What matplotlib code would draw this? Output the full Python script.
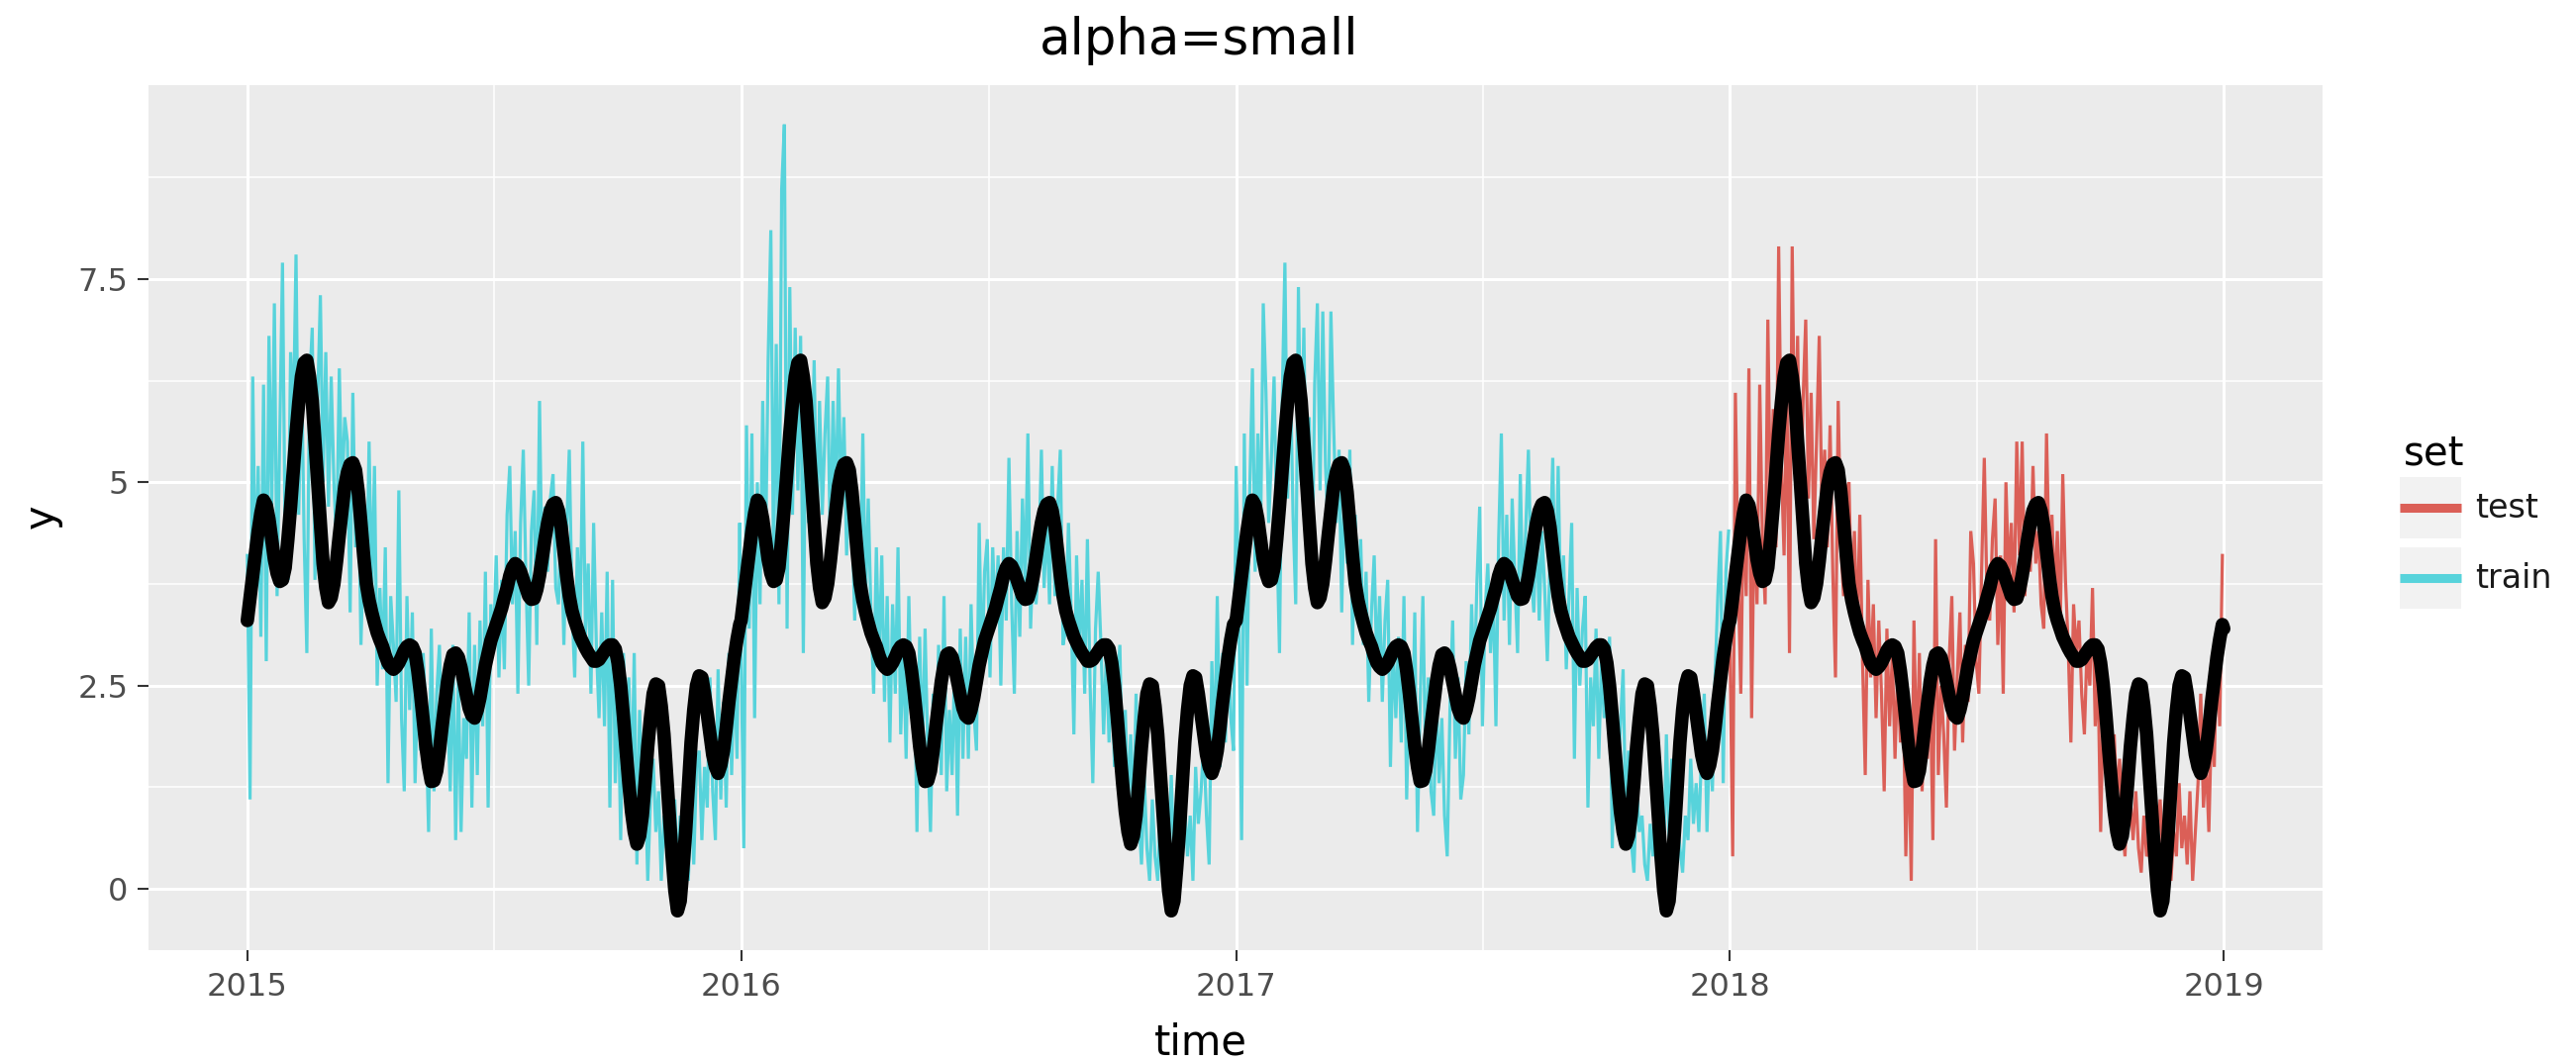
import numpy as np
import pandas as pd
import matplotlib
matplotlib.use('Agg')
import matplotlib.pyplot as plt
import matplotlib.dates as mdates
from matplotlib.patches import Rectangle
from matplotlib.lines import Line2D


# observed y, one value every second day starting 1 January of each year
y_2015 = [4.1, 1.1, 6.3, 3.7, 5.2, 3.1, 6.2, 2.8, 6.8, 4.6,
          7.2, 3.6, 5.6, 7.7, 4.2, 3.8, 6.6, 5.7, 7.8, 4.6,
          6.5, 4.3, 2.9, 6.2, 6.9, 3.8, 6.0, 7.3, 5.0, 6.6,
          4.7, 6.3, 5.0, 4.2, 6.4, 4.8, 5.8, 5.5, 3.4, 6.1,
          4.2, 5.2, 3.0, 4.3, 3.4, 5.5, 3.6, 5.2, 2.5, 3.7,
          2.7, 4.2, 1.3, 3.6, 3.0, 2.3, 4.9, 2.1, 1.2, 3.6,
          2.2, 3.4, 1.3, 2.6, 1.7, 2.9, 2.1, 0.7, 3.2, 1.2,
          2.4, 3.0, 1.7, 2.5, 2.3, 1.2, 3.0, 0.6, 2.6, 0.7,
          2.1, 1.6, 3.4, 1.0, 3.0, 1.4, 3.3, 2.0, 3.9, 1.0,
          3.5, 3.0, 4.1, 2.6, 3.8, 2.7, 4.6, 5.2, 3.5, 4.4,
          2.4, 4.5, 5.4, 3.8, 2.5, 4.4, 4.9, 3.0, 6.0, 3.7,
          4.7, 3.9, 4.8, 5.1, 3.7, 3.5, 4.5, 3.0, 4.4, 5.4,
          3.5, 2.6, 4.2, 3.2, 5.5, 3.1, 4.0, 2.4, 4.5, 3.0,
          2.1, 3.4, 2.0, 3.9, 1.0, 3.8, 1.3, 2.5, 0.6, 2.9,
          1.9, 2.6, 1.1, 2.9, 0.3, 2.2, 1.0, 1.5, 0.1, 1.1,
          1.6, 0.7, 1.2, 0.1, 0.9, 0.5, 1.2, 0.6, 1.1, 0.2,
          0.9, 0.4, 1.2, 0.1, 1.1, 0.3, 1.5, 1.7, 0.6, 1.5,
          1.0, 2.6, 1.2, 0.6, 2.7, 1.1, 2.3, 1.0, 2.9, 1.4,
          2.8, 1.6, 4.5]
y_2016 = [3.0, 0.5, 5.7, 3.2, 5.6, 2.1, 5.0, 3.5, 6.0, 4.0,
          6.5, 8.1, 3.9, 6.7, 3.5, 8.6, 9.4, 3.2, 7.4, 4.6,
          6.9, 4.9, 6.8, 2.9, 6.3, 4.5, 4.8, 6.5, 4.4, 6.0,
          4.6, 5.6, 6.3, 4.1, 6.0, 4.6, 6.4, 4.7, 5.8, 4.1,
          5.2, 4.6, 3.3, 4.8, 3.6, 5.6, 3.5, 4.8, 3.4, 2.4,
          4.2, 2.8, 4.1, 2.3, 3.6, 1.8, 3.5, 2.4, 4.2, 1.9,
          3.0, 1.6, 3.6, 2.1, 2.9, 0.7, 3.1, 1.6, 3.2, 1.7,
          0.7, 2.4, 1.5, 3.0, 1.4, 3.6, 1.2, 2.2, 1.4, 2.9,
          0.9, 3.2, 1.6, 3.1, 1.6, 3.5, 2.2, 1.7, 4.5, 2.6,
          3.9, 4.3, 2.6, 4.2, 3.3, 4.1, 2.5, 4.2, 3.3, 5.3,
          3.5, 2.4, 4.4, 3.1, 4.8, 3.7, 5.6, 3.2, 4.2, 3.5,
          4.0, 5.4, 3.7, 4.6, 3.5, 5.2, 3.6, 4.7, 5.4, 3.0,
          3.2, 4.5, 3.4, 1.9, 4.1, 3.0, 3.8, 2.4, 4.3, 2.5,
          1.3, 3.2, 3.9, 3.0, 1.9, 2.9, 1.8, 2.7, 1.5, 2.5,
          3.0, 1.2, 2.2, 1.0, 1.9, 0.8, 2.4, 0.9, 0.3, 1.4,
          0.5, 0.1, 1.1, 0.4, 0.1, 1.0, 0.5, 1.2, 0.4, 1.4,
          0.3, 0.5, 1.1, 0.5, 1.0, 0.4, 0.9, 0.1, 1.5, 0.8,
          1.2, 1.8, 0.9, 0.3, 2.8, 1.6, 3.6, 1.5, 2.9, 1.8,
          3.1, 2.1, 1.7]
y_2017 = [5.2, 3.4, 0.6, 5.6, 2.5, 4.9, 6.4, 3.9, 5.6, 4.3,
          7.2, 6.1, 4.5, 5.3, 6.3, 4.4, 2.9, 6.0, 7.7, 4.8,
          6.4, 4.6, 3.5, 7.4, 5.0, 6.9, 4.5, 5.8, 3.6, 6.2,
          7.2, 4.9, 7.1, 5.2, 4.4, 7.1, 5.7, 4.5, 5.4, 3.4,
          5.0, 4.0, 5.4, 3.0, 4.6, 3.3, 4.3, 3.0, 3.9, 2.3,
          3.4, 4.1, 2.7, 3.6, 2.3, 3.3, 3.8, 1.5, 3.0, 2.1,
          3.1, 1.8, 3.6, 1.1, 2.6, 1.6, 3.4, 0.7, 2.3, 3.6,
          1.5, 2.6, 1.2, 0.9, 2.4, 1.3, 2.1, 0.9, 0.4, 2.2,
          3.3, 1.6, 2.6, 1.1, 1.4, 2.8, 1.9, 3.5, 2.5, 3.8,
          4.7, 2.0, 3.4, 4.0, 2.9, 3.7, 2.0, 4.3, 5.6, 3.3,
          4.6, 3.0, 4.8, 3.8, 2.9, 5.1, 3.5, 4.4, 5.4, 3.9,
          3.4, 4.6, 3.3, 4.4, 3.7, 2.8, 4.1, 5.3, 3.4, 5.2,
          3.3, 4.1, 2.7, 3.6, 4.5, 1.6, 3.7, 2.5, 3.2, 3.6,
          1.0, 2.6, 2.0, 3.2, 1.6, 2.8, 2.1, 2.5, 3.1, 0.5,
          2.2, 1.3, 2.0, 2.7, 0.8, 1.7, 0.6, 0.2, 1.3, 0.7,
          0.9, 0.3, 0.1, 0.8, 0.4, 1.1, 0.5, 0.9, 0.3, 1.9,
          0.6, 1.6, 0.4, 0.9, 0.5, 0.2, 0.9, 0.6, 1.6, 0.8,
          1.3, 0.7, 1.7, 2.4, 0.7, 1.9, 1.2, 2.6, 3.6, 4.4,
          1.3, 3.9, 4.4]
y_2018 = [3.0, 0.4, 6.1, 3.9, 2.4, 4.8, 3.6, 6.4, 2.1, 4.7,
          3.5, 6.2, 4.3, 3.5, 7.0, 4.6, 5.9, 4.2, 7.9, 5.2,
          4.1, 6.3, 2.9, 7.9, 5.1, 6.8, 4.4, 6.0, 7.0, 4.8,
          6.1, 4.3, 5.5, 6.8, 4.6, 5.4, 4.2, 5.7, 3.9, 2.6,
          6.0, 4.2, 3.6, 4.9, 5.0, 3.4, 4.4, 3.1, 4.6, 2.8,
          1.4, 3.8, 2.6, 3.5, 2.1, 3.3, 2.4, 1.2, 3.2, 2.0,
          2.9, 1.6, 2.7, 1.8, 2.5, 0.4, 1.9, 0.1, 3.3, 1.5,
          2.9, 1.2, 2.2, 1.6, 2.6, 0.6, 4.3, 1.4, 2.5, 1.9,
          1.0, 2.8, 3.6, 1.7, 2.6, 3.4, 1.8, 3.0, 2.3, 4.4,
          4.0, 2.8, 2.4, 3.9, 5.3, 3.6, 3.3, 4.3, 4.8, 3.0,
          4.1, 2.4, 5.0, 3.8, 4.5, 3.4, 5.5, 4.1, 5.5, 3.6,
          4.6, 3.9, 5.2, 4.0, 4.4, 3.5, 3.2, 5.6, 4.0, 4.6,
          3.6, 4.4, 3.1, 5.1, 3.8, 3.0, 1.8, 3.5, 2.9, 3.3,
          2.4, 1.9, 3.0, 2.5, 3.7, 2.0, 2.7, 0.7, 2.3, 1.5,
          2.2, 1.3, 1.9, 1.1, 1.6, 0.8, 0.4, 1.3, 1.1, 0.6,
          1.2, 0.5, 0.2, 0.9, 0.4, 0.5, 1.0, 0.3, 0.6, 1.1,
          0.4, 0.8, 0.3, 0.1, 0.7, 0.4, 1.3, 0.5, 0.9, 0.3,
          1.2, 0.1, 0.7, 1.3, 2.4, 1.0, 1.6, 0.7, 2.1, 1.5,
          3.2, 2.0, 4.1]

# smooth seasonal fit, same two-day steps, identical every year
fit_year = [3.3, 3.58, 3.85, 4.13, 4.4, 4.62, 4.78, 4.72, 4.55, 4.3,
            4.05, 3.88, 3.78, 3.8, 3.95, 4.3, 4.7, 5.15, 5.6, 5.98,
            6.3, 6.47, 6.5, 6.3, 6.0, 5.5, 5.0, 4.5, 4.0, 3.7,
            3.52, 3.58, 3.75, 4.03, 4.35, 4.65, 4.95, 5.12, 5.22, 5.24,
            5.15, 4.88, 4.5, 4.1, 3.75, 3.55, 3.4, 3.27, 3.15, 3.06,
            2.98, 2.87, 2.78, 2.73, 2.7, 2.73, 2.78, 2.85, 2.93, 2.98,
            3.0, 2.98, 2.9, 2.68, 2.4, 2.08, 1.75, 1.5, 1.32, 1.33,
            1.45, 1.7, 2.0, 2.28, 2.55, 2.75, 2.88, 2.9, 2.85, 2.72,
            2.55, 2.38, 2.22, 2.13, 2.1, 2.2, 2.35, 2.55, 2.75, 2.9,
            3.05, 3.15, 3.25, 3.35, 3.45, 3.58, 3.7, 3.85, 3.95, 4.0,
            3.97, 3.9, 3.8, 3.7, 3.6, 3.56, 3.57, 3.68, 3.85, 4.07,
            4.3, 4.5, 4.65, 4.73, 4.75, 4.65, 4.45, 4.15, 3.85, 3.6,
            3.42, 3.3, 3.2, 3.1, 3.03, 2.96, 2.9, 2.85, 2.8, 2.8,
            2.82, 2.87, 2.92, 2.97, 3.0, 3.0, 2.95, 2.78, 2.5, 2.12,
            1.7, 1.3, 0.95, 0.7, 0.55, 0.65, 0.9, 1.3, 1.75, 2.1,
            2.4, 2.52, 2.5, 2.25, 1.9, 1.4, 0.9, 0.4, -0.02, -0.27,
            -0.15, 0.25, 0.7, 1.25, 1.8, 2.2, 2.5, 2.62, 2.6, 2.4,
            2.15, 1.9, 1.65, 1.5, 1.42, 1.52, 1.7, 1.98, 2.3, 2.58,
            2.85, 3.07, 3.25]
fit_end = 3.2  # fit at 2019-01-01

train_years = [2015, 2016, 2017]
test_years = [2018]
year_values = {2015: y_2015, 2016: y_2016, 2017: y_2017, 2018: y_2018}
set_labels = ['test', 'train']
set_colors = {'test': '#db5f57', 'train': '#57d3db'}
x_ticks = [2015, 2016, 2017, 2018, 2019]
y_ticks = [0, 2.5, 5, 7.5]
y_tick_labels = ['0', '2.5', '5', '7.5']


def year_dates(year):
    start = pd.Timestamp(f'{year}-01-01')
    return mdates.date2num((start + pd.to_timedelta(np.arange(0, 365, 2), unit='D')).to_pydatetime())


def jan1(year):
    return mdates.date2num(pd.Timestamp(f'{year}-01-01').to_pydatetime())


W, H = 2602, 1073
fig = plt.figure(figsize=(W / 100, H / 100), dpi=100)
fig.patch.set_facecolor('white')
px_l, px_r, px_t, px_b = 150, 2346, 86, 960
ax = fig.add_axes([px_l / W, 1 - px_b / H, (px_r - px_l) / W, (px_b - px_t) / H])
ax.set_facecolor('#ebebeb')

# noisy series, one line per set
for name, years in (('train', train_years), ('test', test_years)):
    xs = np.concatenate([year_dates(yr) for yr in years])
    ys = np.concatenate([year_values[yr] for yr in years])
    ax.plot(xs, ys, color=set_colors[name], lw=2.3, solid_joinstyle='miter', zorder=2)

# seasonal fit on top
fit_x = np.concatenate([year_dates(yr) for yr in train_years + test_years] + [[jan1(2019)]])
fit_y = np.concatenate([fit_year] * 4 + [[fit_end]])
ax.plot(fit_x, fit_y, color='black', lw=9.8, solid_capstyle='round', solid_joinstyle='round', zorder=3)

# limits with 5% expansion as in ggplot
x0, x1 = jan1(2015), jan1(2019)
all_y = np.concatenate([y_2015, y_2016, y_2017, y_2018, fit_year])
y0, y1 = all_y.min(), all_y.max()
ax.set_xlim(x0 - 0.05 * (x1 - x0), x1 + 0.05 * (x1 - x0))
ax.set_ylim(y0 - 0.05 * (y1 - y0), y1 + 0.05 * (y1 - y0))

major_x = [jan1(y) for y in x_ticks]
ax.set_xticks(major_x)
ax.set_xticklabels([str(y) for y in x_ticks])
ax.set_xticks([(a + b) / 2 for a, b in zip(major_x[:-1], major_x[1:])], minor=True)
ax.set_yticks(y_ticks)
ax.set_yticklabels(y_tick_labels)
ax.set_yticks([1.25, 3.75, 6.25, 8.75], minor=True)

ax.grid(which='major', color='white', lw=2.2, zorder=0)
ax.grid(which='minor', color='white', lw=1.1, zorder=0)
ax.set_axisbelow(True)
for sp in ax.spines.values():
    sp.set_visible(False)
ax.tick_params(which='major', length=7.7, width=1.5, color='#333333',
               labelsize=23, labelcolor='#4d4d4d')
ax.tick_params(axis='x', which='major', pad=8)
ax.tick_params(axis='y', which='major', pad=7)
ax.tick_params(which='minor', length=0)

# titles
fig.text(1211 / W, 1 - 55 / H, 'alpha=small', ha='center', va='baseline', fontsize=37, color='black')
fig.text(1213 / W, 1 - 1066 / H, 'time', ha='center', va='baseline', fontsize=30, color='black')
fig.text(42 / W, 1 - 522 / H, 'y', ha='center', va='center', rotation=90, fontsize=30, color='black')

# legend
fig.text(2428 / W, 1 - 470 / H, 'set', ha='left', va='baseline', fontsize=29, color='black')
key_w, key_h = 62, 62
for i, name in enumerate(set_labels):
    top = 482 + i * 71
    fig.add_artist(Rectangle((2424 / W, 1 - (top + key_h) / H), key_w / W, key_h / H,
                             transform=fig.transFigure, facecolor='#f2f2f2', edgecolor='none'))
    cy = 1 - (top + key_h / 2) / H
    fig.add_artist(Line2D([2424 / W, 2486 / W], [cy, cy], transform=fig.transFigure,
                          color=set_colors[name], lw=6.5, solid_capstyle='butt'))
    fig.text(2500 / W, cy, name, ha='left', va='center', fontsize=24, color='#1a1a1a')

fig.savefig('out.png', dpi=100)
